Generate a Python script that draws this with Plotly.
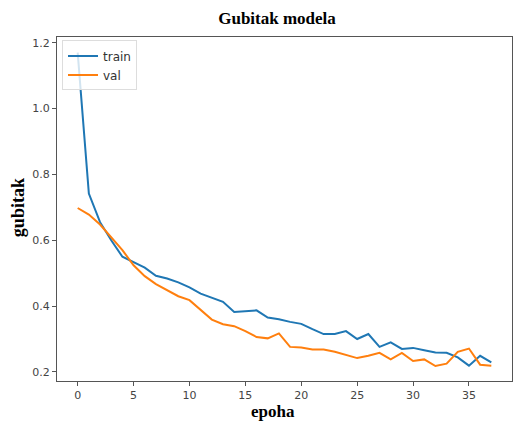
import plotly.graph_objects as go

epochs = list(range(38))
train_loss = [1.17, 0.742, 0.655, 0.60, 0.55, 0.534, 0.517, 0.492, 0.484, 0.472,
              0.457, 0.438, 0.426, 0.413, 0.382, 0.384, 0.387, 0.365, 0.36, 0.352,
              0.346, 0.33, 0.315, 0.315, 0.324, 0.30, 0.315, 0.276, 0.29, 0.27,
              0.273, 0.266, 0.259, 0.258, 0.244, 0.219, 0.249, 0.229]
val_loss = [0.698, 0.678, 0.648, 0.61, 0.57, 0.524, 0.491, 0.467, 0.448, 0.43,
            0.418, 0.388, 0.359, 0.345, 0.339, 0.324, 0.306, 0.302, 0.317, 0.276,
            0.274, 0.268, 0.268, 0.261, 0.251, 0.242, 0.249, 0.258, 0.238, 0.258,
            0.233, 0.238, 0.218, 0.225, 0.261, 0.271, 0.222, 0.219]
x_ticks = [0, 5, 10, 15, 20, 25, 30, 35]
y_ticks = [0.2, 0.4, 0.6, 0.8, 1.0, 1.2]

fig = go.Figure()
fig.add_trace(go.Scatter(x=epochs, y=train_loss, mode="lines", name="train",
                         line=dict(color="#1f77b4", width=2)))
fig.add_trace(go.Scatter(x=epochs, y=val_loss, mode="lines", name="val",
                         line=dict(color="#ff7f0e", width=2)))

axis_common = dict(showgrid=False, zeroline=False, showline=True, linecolor="#555",
                   linewidth=1, mirror=True, ticks="outside", ticklen=4, tickcolor="#555",
                   automargin=False,
                   tickfont=dict(family="DejaVu Sans", size=11, color="#444"))

fig.update_layout(
    width=514, height=421,
    margin=dict(l=57, r=2, t=37, b=40, autoexpand=False),
    paper_bgcolor="white", plot_bgcolor="white",
    title=dict(text="<b>Gubitak modela</b>", x=0.539, xanchor="center", y=0.957, yanchor="middle",
               font=dict(family="Liberation Serif", size=17, color="black")),
    xaxis=dict(range=[-1.85, 38.85], tickvals=x_ticks, **axis_common),
    yaxis=dict(range=[0.1724, 1.2176], tickvals=y_ticks, tickformat=".1f", **axis_common),
    legend=dict(x=0.011, y=0.99, xanchor="left", yanchor="top",
                bgcolor="rgba(255,255,255,0.8)", bordercolor="#ddd", borderwidth=1,
                font=dict(family="DejaVu Sans", size=12, color="#333"),
                tracegroupgap=0, itemwidth=30),
    showlegend=True,
    annotations=[
        dict(text="<b>epoha</b>", xref="paper", yref="paper", x=0.475, y=-0.088,
             xanchor="center", yanchor="middle", showarrow=False,
             font=dict(family="Liberation Serif", size=17, color="black")),
        dict(text="<b>gubitak</b>", xref="paper", yref="paper", x=-0.0868, y=0.504,
             xanchor="center", yanchor="middle", showarrow=False, textangle=-90,
             font=dict(family="Liberation Serif", size=18, color="black")),
    ],
)

fig.write_html("out.html", config={"displayModeBar": False},
               post_script="document.body.style.margin='0';document.body.style.padding='0';")
